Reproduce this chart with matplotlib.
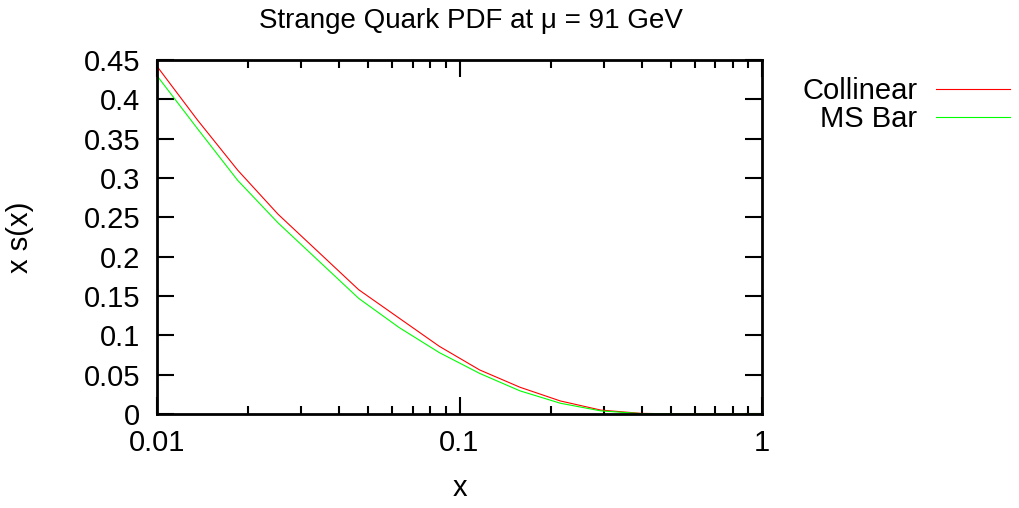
import matplotlib
matplotlib.use("Agg")
import matplotlib.pyplot as plt
from matplotlib.ticker import LogLocator, NullFormatter

plt.rcParams['font.family'] = ['Liberation Sans', 'DejaVu Sans']

# data
x_vals = [0.01, 0.01359, 0.01848, 0.02512, 0.03415, 0.04642, 0.0631, 0.0858,
          0.1166, 0.1585, 0.2154, 0.2929, 0.3981, 0.5412, 0.7356, 1.0]
collinear = [0.442, 0.374, 0.310, 0.254, 0.206, 0.158, 0.122, 0.086,
             0.056, 0.034, 0.0166, 0.005, 0.0008, 0.0001, 0.0, 0.0]
msbar = [0.430, 0.363, 0.297, 0.243, 0.195, 0.147, 0.110, 0.078,
         0.0516, 0.0294, 0.0137, 0.004, 0.0005, 0.0, 0.0, 0.0]
y_ticks = [0, 0.05, 0.1, 0.15, 0.2, 0.25, 0.3, 0.35, 0.4, 0.45]
y_tick_labels = ['0', '0.05', '0.1', '0.15', '0.2', '0.25', '0.3', '0.35', '0.4', '0.45']
x_ticks = [0.01, 0.1, 1]
x_tick_labels = ['0.01', '0.1', '1']

fig = plt.figure(figsize=(10.19, 5.08), dpi=100)
ax = fig.add_axes([157/1019, 1-414/508, (762-157)/1019, (414-60)/508])

ax.plot(x_vals, collinear, color='#ff0000', lw=0.8, label='Collinear')
ax.plot(x_vals, msbar, color='#00ff00', lw=0.8, label='MS Bar')

ax.set_xscale('log')
ax.set_xlim(0.01, 1)
ax.set_ylim(0, 0.45)
ax.set_xticks(x_ticks)
ax.set_xticklabels(x_tick_labels)
ax.xaxis.set_minor_locator(LogLocator(base=10, subs=range(2, 10)))
ax.xaxis.set_minor_formatter(NullFormatter())
ax.set_yticks(y_ticks)
ax.set_yticklabels(y_tick_labels)

fs = 21
ax.tick_params(axis='y', which='major', pad=12)
ax.tick_params(axis='x', which='major', pad=11)
ax.tick_params(axis='both', which='major', direction='in', length=12, width=1.5,
               top=True, right=True, labelsize=fs)
ax.tick_params(axis='both', which='minor', direction='in', length=6, width=1.5,
               top=True, right=True)
for s in ax.spines.values():
    s.set_linewidth(2)

ax.set_xlabel('x', fontsize=fs, labelpad=12)
ax.set_ylabel('x s(x)', fontsize=fs, labelpad=36)
fig.text(471/1019, 1-21/508, 'Strange Quark PDF at \u03bc = 91 GeV', fontsize=20,
         ha='center', va='center')

ax.legend(loc='upper left', bbox_to_anchor=(1.0 + 20/605, 1.0 + 3/354), frameon=False,
          markerfirst=False, fontsize=fs, handlelength=2.55, handletextpad=0.62,
          labelspacing=0.0, borderaxespad=0.3)

fig.savefig('out.png', dpi=100)
